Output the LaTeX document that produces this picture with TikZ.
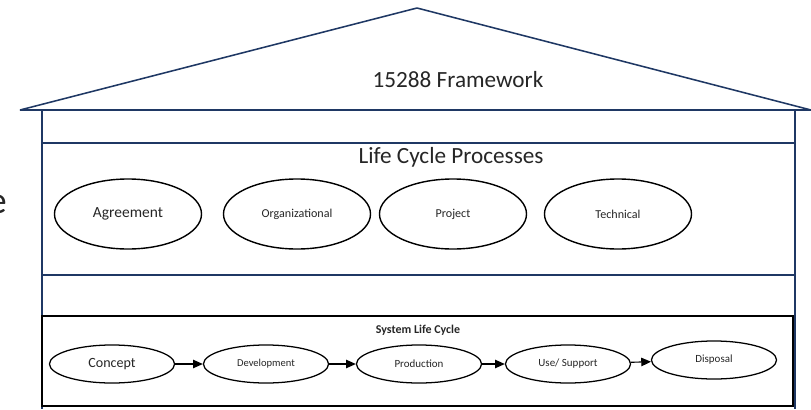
\documentclass[tikz,border=0pt]{standalone}
\usepackage{fontspec}
\setmainfont{Carlito}
\usetikzlibrary{shapes.geometric,arrows.meta}
\definecolor{housenavy}{HTML}{1F3864}
\definecolor{inktext}{HTML}{262626}
\tikzset{
	wall/.style = {draw = housenavy, line width = 1.1pt},
	process/.style = {ellipse, draw, line width = 1pt, minimum width = 3.675cm, minimum height = 1.75cm, inner sep = 0pt, text = inktext},
	stage/.style = {ellipse, draw, line width = 0.9pt, minimum width = 3.125cm, minimum height = 0.95cm, inner sep = 0pt, text = inktext},
	flow/.style = {-{Triangle[length = 7pt, width = 6pt]}, line width = 0.8pt}
}
\begin{document}
\begin{tikzpicture}[x = 0.025cm, y = -0.025cm]
		\useasboundingbox (0,0) rectangle (811,409);
		% roof and walls
		\draw [wall, line join = bevel] (20,110) -- (417,8) -- (811,110) -- cycle;
		\draw [wall] (42,110) -- (42,409);
		\draw [wall] (795,110) -- (795,409);
		\draw [wall] (42,143) -- (795,143);
		\draw [wall] (42,275) -- (795,275);
		\draw [line width = 1pt] (42,316) rectangle (793,406);
		\node [anchor = east, inner sep = 0pt, text = inktext](cut) at (7,204) {\fontsize{27}{30}\selectfont e};
		\node [text = inktext](frame) at (458,80) {\fontsize{16.5}{20}\selectfont 15288 Framework};
		\node [text = inktext](lcp) at (451,157) {\fontsize{16.5}{20}\selectfont Life Cycle Processes};
		% process groups
		\node [process](agreement) at (128,214) {\fontsize{11}{13}\selectfont Agreement};
		\node [process](organizational) at (297,214) {\fontsize{8.6}{10}\selectfont Organizational};
		\node [process](project) at (453,214) {\fontsize{8.6}{10}\selectfont Project};
		\node [process](technical) at (618,214) {\fontsize{8.6}{10}\selectfont Technical};
		% system life cycle
		\node [text = inktext](slc) at (418,330) {\fontsize{8.5}{10}\selectfont\bfseries System Life Cycle};
		\node [stage](concept) at (112,364) {\fontsize{10}{12}\selectfont Concept};
		\node [stage](development) at (266,364) {\fontsize{7.5}{9}\selectfont Development};
		\node [stage](production) at (419,364) {\fontsize{7.8}{9}\selectfont Production};
		\node [stage](use) at (568,364) {\fontsize{7.8}{9}\selectfont Use/ Support};
		\node [stage](disposal) at (714,360) {\fontsize{7.8}{9}\selectfont Disposal};
		\draw [flow] (concept) -- (development);
		\draw [flow] (development) -- (production);
		\draw [flow] (production) -- (use);
		\draw [flow] (use) -- (disposal);
		\end{tikzpicture}
\end{document}
